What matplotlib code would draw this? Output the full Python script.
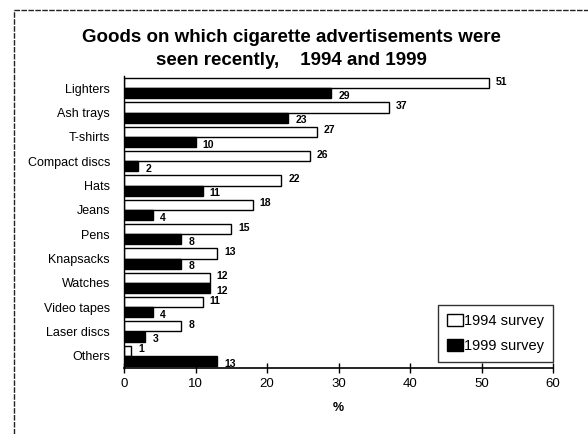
import matplotlib
matplotlib.use("Agg")
import matplotlib.pyplot as plt
from matplotlib.lines import Line2D

# ── Data ──────────────────────────────────────────────────────────────────────
categories = ["Lighters", "Ash trays", "T-shirts", "Compact discs", "Hats", "Jeans",
              "Pens", "Knapsacks", "Watches", "Video tapes", "Laser discs", "Others"]
survey_1994 = [51, 37, 27, 26, 22, 18, 15, 13, 12, 11, 8, 1]
survey_1999 = [29, 23, 10, 2, 11, 4, 8, 8, 12, 4, 3, 13]
x_ticks = [0, 10, 20, 30, 40, 50, 60]

plt.rcParams["font.family"] = ["Liberation Sans", "DejaVu Sans"]

W, H = 588, 434
fig = plt.figure(figsize=(W / 100, H / 100), dpi=100)
fig.patch.set_facecolor("white")

# outer frame (only left/top edges fall inside the picture)
fig.add_artist(Line2D([14 / W, 14 / W], [0, 1 - 10 / H], transform=fig.transFigure,
                      color="#222222", linewidth=1.0, linestyle=(0, (4, 1))))
fig.add_artist(Line2D([14 / W, 1], [1 - 10 / H, 1 - 10 / H], transform=fig.transFigure,
                      color="#222222", linewidth=1.0, linestyle=(0, (4, 1))))

fig.text(291 / W, 1 - 37 / H, "Goods on which cigarette advertisements were",
         ha="center", va="center", fontsize=13.5, fontweight="bold")
fig.text(291 / W, 1 - 60 / H, "seen recently,    1994 and 1999",
         ha="center", va="center", fontsize=13.5, fontweight="bold")

ax = fig.add_axes([124 / W, 1 - 368 / H, 429 / W, 292 / H])

pos = list(range(len(categories)))
h = 0.42
ax.barh([p - h / 2 for p in pos], survey_1994, height=h, color="white",
        edgecolor="black", linewidth=1.0, label="1994 survey")
ax.barh([p + h / 2 for p in pos], survey_1999, height=h, color="black",
        edgecolor="black", linewidth=1.0, label="1999 survey")

for p, a, b in zip(pos, survey_1994, survey_1999):
    ax.annotate(str(a), (a, p - h / 2), xytext=(5, 1), textcoords="offset points",
                ha="left", va="center", fontsize=7.5, fontweight="bold")
    ax.annotate(str(b), (b, p + h / 2), xytext=(5, -2), textcoords="offset points",
                ha="left", va="center", fontsize=7.5, fontweight="bold")

ax.set_xlim(0, 60)
ax.set_ylim(len(categories) - 0.5, -0.5)
ax.set_xticks(x_ticks)
ax.set_xticklabels([str(t) for t in x_ticks], fontsize=9.5)
ax.set_yticks(pos)
ax.set_yticklabels(categories, fontsize=9)
ax.tick_params(axis="y", length=0, pad=10)
ax.tick_params(axis="x", direction="inout", length=7, width=1.0, pad=4)
ax.spines["top"].set_visible(False)
ax.spines["right"].set_visible(False)
ax.spines["left"].set_linewidth(1.0)
ax.spines["bottom"].set_linewidth(1.2)
ax.set_xlabel("%", fontsize=9, fontweight="bold", labelpad=8)

leg = ax.legend(loc="lower right", bbox_to_anchor=(1.0, 0.02), borderaxespad=0,
                fontsize=10.5, frameon=True, fancybox=False, edgecolor="black",
                handlelength=1.1, handleheight=0.9, handletextpad=0.1,
                borderpad=0.6, labelspacing=0.8)
leg.get_frame().set_linewidth(1.0)

fig.savefig("out.png", dpi=100)
